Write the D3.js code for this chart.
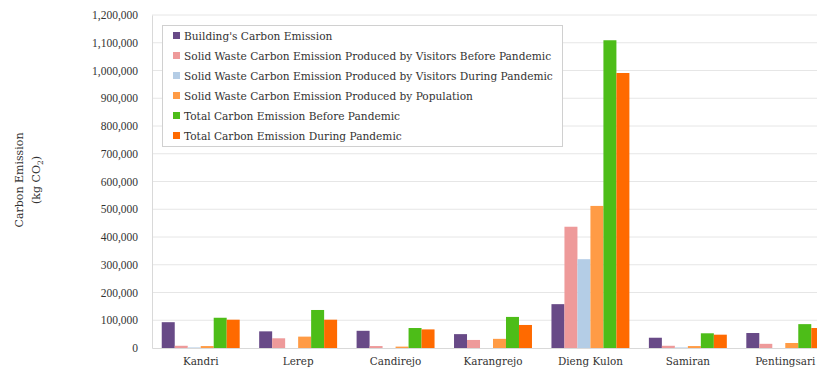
<!DOCTYPE html>
<html><head><meta charset="utf-8">
<script src="https://cdn.jsdelivr.net/npm/d3@7"></script>
<style>body{margin:0;background:#fff;}svg{display:block;}</style>
</head><body>
<svg id="c" width="817" height="372"></svg>
<script>
const categories = ["Kandri","Lerep","Candirejo","Karangrejo","Dieng Kulon","Samiran","Pentingsari"];
const seriesNames = [
  "Building's Carbon Emission",
  "Solid Waste Carbon Emission Produced by Visitors Before Pandemic",
  "Solid Waste Carbon Emission Produced by Visitors During Pandemic",
  "Solid Waste Carbon Emission Produced by Population",
  "Total Carbon Emission Before Pandemic",
  "Total Carbon Emission During Pandemic"
];
const building        = [93000, 60000, 62000, 50000, 158000, 37000, 54000];
const visitorsBefore  = [8000, 35000, 7000, 29000, 437000, 8000, 15000];
const visitorsDuring  = [2000, 0, 0, 0, 320000, 2000, 0];
const population      = [7000, 41000, 5000, 33000, 512000, 7000, 18000];
const totalBefore     = [109000, 137000, 72000, 112000, 1109000, 53000, 86000];
const totalDuring     = [102000, 102000, 67000, 83000, 991000, 48000, 72000];
const yTicks = [0,100000,200000,300000,400000,500000,600000,700000,800000,900000,1000000,1100000,1200000];
const colors = ["#684a87","#ee9a9a","#b4cde6","#ff9b45","#4dbd18","#ff6a00"];

const seriesValues = [building, visitorsBefore, visitorsDuring, population, totalBefore, totalDuring];
const svg = d3.select("#c");
const font = "'Liberation Serif', serif";
const font2 = "'DejaVu Serif', serif";
const mLeft = 152, mRight = 834, mTop = 15, mBottom = 348;

const x = d3.scaleBand().domain(categories).range([mLeft, mRight]).paddingInner(0.2).paddingOuter(0.1);
const x0 = d3.scaleBand().domain(categories).range([mLeft, mRight]);
const xs = d3.scaleBand().domain(d3.range(6)).range([0, x.bandwidth()]);
const y = d3.scaleLinear().domain([0, 1200000]).range([mBottom, mTop]);

// gridlines
svg.append("g").selectAll("line").data(yTicks.slice(1)).join("line")
  .attr("x1", mLeft).attr("x2", 817).attr("y1", d=>y(d)).attr("y2", d=>y(d))
  .attr("stroke", "#e6e6e6").attr("stroke-width", 1);

// y axis
const yAxis = d3.axisLeft(y).tickValues(yTicks).tickFormat(d3.format(",")).tickSize(0).tickPadding(14);
const gy = svg.append("g").attr("transform", `translate(${mLeft},0)`).call(yAxis);
gy.select(".domain").attr("stroke", "#d9d9d9");
gy.selectAll("text").attr("font-family", font).attr("font-size", 11.5).attr("fill", "#333");

// bars
const groups = svg.append("g").selectAll("g").data(categories).join("g")
  .attr("transform", d => `translate(${x(d)},0)`);
groups.selectAll("rect").data((c, i) => seriesValues.map((s, k) => ({k, v: s[i]}))).join("rect")
  .attr("x", d => xs(d.k)).attr("width", xs.bandwidth())
  .attr("y", d => y(d.v)).attr("height", d => y(0) - y(d.v))
  .attr("fill", d => colors[d.k]);

// x axis baseline
const xAxis = d3.axisBottom(x0).tickSize(0).tickPadding(10);
const gx = svg.append("g").attr("transform", `translate(0,${mBottom})`).call(xAxis);
gx.select(".domain").attr("stroke", "#d9d9d9");
gx.selectAll("text").attr("font-family", font2).attr("font-size", 10.4).attr("fill", "#333");

// y title
const yt = svg.append("text").attr("transform", "translate(23,180) rotate(-90)")
  .attr("text-anchor", "middle").attr("font-family", font2).attr("font-size", 11).attr("fill", "#333");
yt.append("tspan").attr("x", 0).attr("dy", 0).text("Carbon Emission");
yt.append("tspan").attr("x", 0).attr("dy", 17).text("(kg CO");
yt.append("tspan").attr("dy", 3).attr("font-size", 7.5).text("2");
yt.append("tspan").attr("dy", -3).text(")");

// legend
const lg = svg.append("g");
lg.append("rect").attr("x", 162.5).attr("y", 25.5).attr("width", 400).attr("height", 121)
  .attr("fill", "#fff").attr("stroke", "#d0d0d0");
const li = lg.selectAll("g.li").data(seriesNames).join("g").attr("class","li")
  .attr("transform", (d, i) => `translate(173,${36 + i*20})`);
li.append("rect").attr("x", 0).attr("y", -4).attr("width", 7).attr("height", 7).attr("fill", (d,i)=>colors[i]);
li.append("text").attr("x", 11).attr("y", 4).attr("font-family", font2).attr("font-size", 10.6)
  .attr("fill", "#333").text(d => d);
</script>
</body></html>
